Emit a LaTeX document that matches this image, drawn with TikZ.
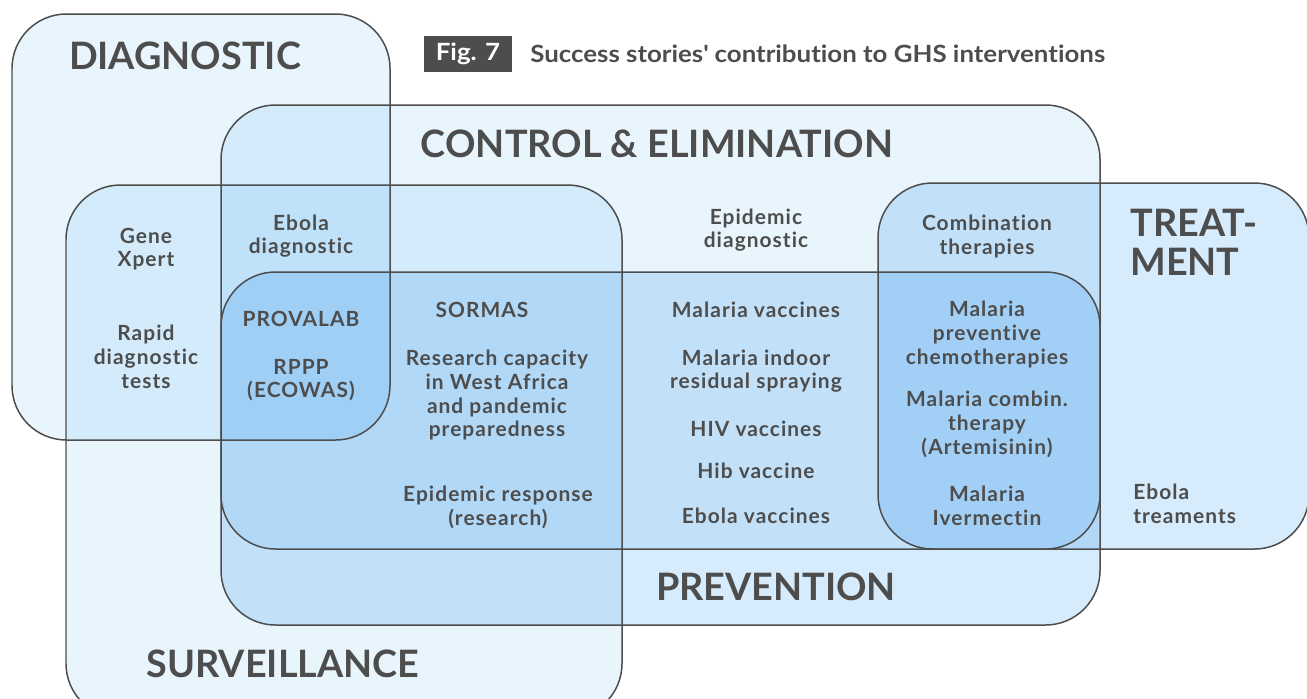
\documentclass[tikz,border=0pt]{standalone}
\usepackage{fontspec}
\setmainfont{Lato}[Ligatures=CommonOff]
\newfontfamily\itemfont{Lato}[Ligatures=CommonOff, LetterSpace=5]
\newfontfamily\titlefont{Lato}[Ligatures=CommonOff, FakeStretch=1.09]
\usepackage{tikz}

\definecolor{ink}{HTML}{4D4D4D}
\definecolor{paleblue}{RGB}{232,245,253}
\definecolor{midblue}{RGB}{214,235,251}

\tikzset{
  area/.style={draw=ink, line width=0.85pt, rounded corners=31pt},
  areafill/.style={fill=#1, rounded corners=31pt},
  item/.style={align=center, text=ink, inner sep=0pt, yshift=-1.2pt,
    font=\itemfont\bfseries\fontsize{11.9}{13.6}\selectfont},
  heading/.style={text=ink, inner sep=0pt,
    font=\bfseries\fontsize{21.5}{22}\selectfont},
  figtag/.style={fill=ink, text=white, inner sep=0pt, minimum width=50pt,
    minimum height=21pt, font=\titlefont\bfseries\fontsize{13.5}{14}\selectfont}
}

\begin{document}
\begin{tikzpicture}[x=0.02cm, y=-0.02cm]
\useasboundingbox (0,0) rectangle (1307,698);
\clip (0,0) rectangle (1307,698);

% the five areas, shaded where they overlap
\begin{scope}[blend group=multiply]
  \fill[areafill=paleblue] (12,14) rectangle (390,440);    % diagnostic
  \fill[areafill=paleblue] (66,185) rectangle (622,718);   % surveillance
  \fill[areafill=paleblue] (221,105) rectangle (1100,549); % control
  \fill[areafill=midblue] (221,272) rectangle (1100,625);  % prevention
  \fill[areafill=midblue] (878,183) rectangle (1309,549);  % treatment
\end{scope}
\draw[area] (12,14) rectangle (390,440);
\draw[area] (66,185) rectangle (622,718);
\draw[area] (221,105) rectangle (1100,549);
\draw[area] (221,272) rectangle (1100,625);
\draw[area] (878,183) rectangle (1309,549);

% headings
\node[heading] (diaghead) at (185,56) {DIAGNOSTIC};
\node[heading] (ctrlhead) at (657,144) {CONTROL \& ELIMINATION};
\node[heading, align=left, anchor=north west] (treathead) at (1130,209) {TREAT-\\MENT};
\node[heading] (prevhead) at (776,587) {PREVENTION};
\node[heading] (survhead) at (283,664) {SURVEILLANCE};

% figure caption
\node[figtag] (tag) at (468,54) {Fig. 7};
\node[anchor=west, text=ink, inner sep=0pt, font=\titlefont\bfseries\fontsize{13.5}{14}\selectfont]
  (title) at (530,54) {Success stories\textquotesingle{} contribution to GHS interventions};

% diagnostic and surveillance
\node[item] (genexpert) at (146,247) {Gene\\Xpert};
\node[item] (rdt) at (146,355) {Rapid\\diagnostic\\tests};
\node[item] (ebodiag) at (301,234) {Ebola\\diagnostic};
\node[item] (provalab) at (301,317) {PROVALAB};
\node[item] (rppp) at (301,378) {RPPP\\(ECOWAS)};
\node[item] (sormas) at (482,308) {SORMAS};
\node[item] (capacity) at (497,393) {Research capacity\\in West Africa\\and pandemic\\preparedness};
\node[item] (epiresp) at (498,505) {Epidemic response\\(research)};

% control and prevention
\node[item] (epidiag) at (756,228) {Epidemic\\diagnostic};
\node[item] (malvac) at (756,308) {Malaria vaccines};
\node[item] (spray) at (756,369) {Malaria indoor\\residual spraying};
\node[item] (hivvac) at (756,427) {HIV vaccines};
\node[item] (hibvac) at (756,469) {Hib vaccine};
\node[item] (ebovac) at (756,514) {Ebola vaccines};

% treatment
\node[item] (combi) at (987,234) {Combination\\therapies};
\node[item] (chemo) at (987,332) {Malaria\\preventive\\chemotherapies};
\node[item] (artem) at (987,422) {Malaria combin.\\therapy\\(Artemisinin)};
\node[item] (iverm) at (987,504) {Malaria\\Ivermectin};
\node[item, align=left, anchor=west] (ebotreat) at (1133,502) {Ebola\\treaments};
\end{tikzpicture}
\end{document}
